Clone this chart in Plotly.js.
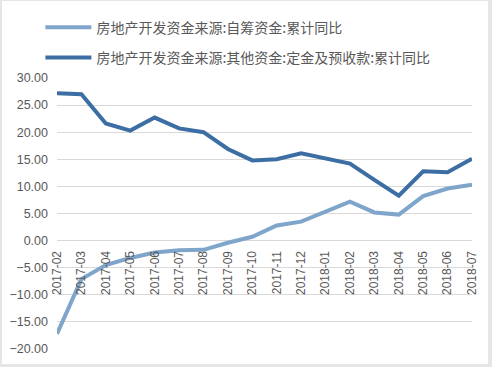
<!DOCTYPE html>
<html>
<head>
<meta charset="utf-8">
<script src="https://cdn.plot.ly/plotly-3.0.1.min.js"></script>
<style>
html,body{margin:0;padding:0;background:#e6e6e6;width:492px;height:367px;overflow:hidden;}
#chart{position:absolute;left:2px;top:1px;width:486px;height:363px;background:#fff;}
</style>
</head>
<body>
<div id="chart"></div>
<script>
var categories = ["2017-02","2017-03","2017-04","2017-05","2017-06","2017-07","2017-08","2017-09","2017-10","2017-11","2017-12","2018-01","2018-02","2018-03","2018-04","2018-05","2018-06","2018-07"];
var selfFunded = [-17.2,-7.1,-4.5,-3.2,-2.2,-1.8,-1.7,-0.4,0.7,2.8,3.5,5.4,7.2,5.2,4.8,8.2,9.6,10.3];
var depositsAdvance = [27.2,27.0,21.6,20.3,22.7,20.7,20.0,16.9,14.8,15.0,16.1,15.1,14.2,11.2,8.3,12.8,12.6,15.1];
var seriesNames = ["房地产开发资金来源:自筹资金:累计同比","房地产开发资金来源:其他资金:定金及预收款:累计同比"];
var yTicks = [-20,-15,-10,-5,0,5,10,15,20,25,30];

var traces = [
  {x: categories, y: selfFunded, name: seriesNames[0], type: 'scatter', mode: 'lines',
   line: {color: '#7fa5cb', width: 4}, legendgroup: 'a'},
  {x: categories, y: depositsAdvance, name: seriesNames[1], type: 'scatter', mode: 'lines',
   line: {color: '#3c6ea4', width: 4}, legendgroup: 'b'}
];
var layout = {
  width: 486, height: 363,
  margin: {l: 55, r: 16, t: 77, b: 15, autoexpand: false},
  paper_bgcolor: '#ffffff', plot_bgcolor: '#ffffff',
  showlegend: true,
  legend: {x: -0.04, y: 1.245, xanchor: 'left', yanchor: 'top',
    traceorder: 'grouped', tracegroupgap: 9, itemwidth: 46,
    font: {family: 'Noto Sans CJK SC', size: 14, color: '#595959'}, bgcolor: 'rgba(0,0,0,0)'},
  xaxis: {type: 'category', anchor: 'free', position: 0.4, showgrid: false, showline: false,
    ticks: '', tickangle: -90, ticklabelstandoff: 7,
    tickfont: {family: 'Liberation Sans', size: 12, color: '#595959'},
    automargin: false, fixedrange: true},
  yaxis: {range: [-20, 30], tickvals: yTicks, tickformat: '.2f', showgrid: true, gridcolor: '#d9d9d9',
    gridwidth: 1, zeroline: false, showline: false, ticks: '', ticklabelstandoff: 8,
    tickfont: {family: 'Liberation Sans', size: 12.5, color: '#595959'}, automargin: false, fixedrange: true}
};
Plotly.newPlot('chart', traces, layout, {displayModeBar: false, staticPlot: true});
</script>
</body>
</html>
